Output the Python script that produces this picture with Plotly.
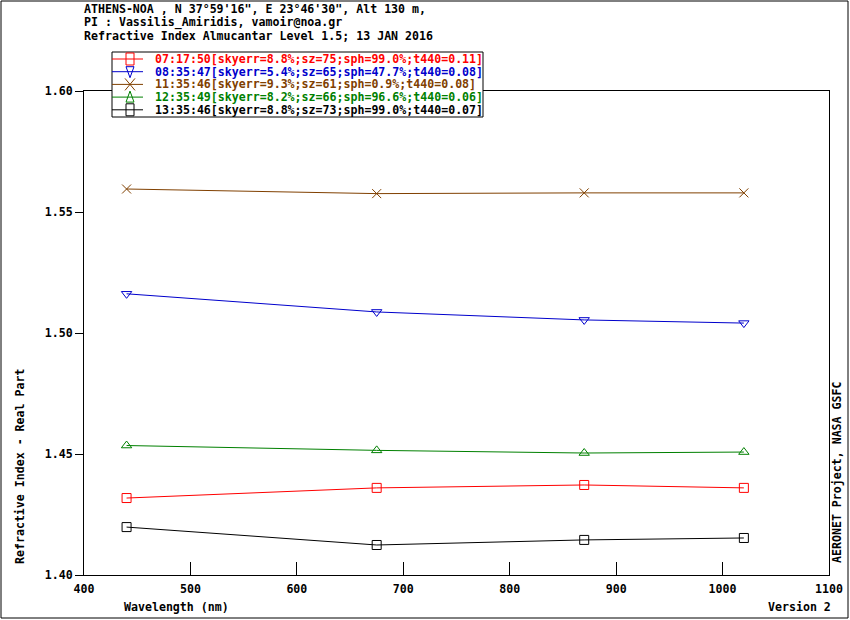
import plotly.graph_objects as go

# wavelengths (nm) and real part of refractive index per almucantar scan
wavelengths = [440, 675, 870, 1020]

ri_0717 = [1.4318, 1.4360, 1.4372, 1.4360]
ri_0835 = [1.5162, 1.5087, 1.5054, 1.5041]
ri_1135 = [1.5595, 1.5576, 1.5579, 1.5579]
ri_1235 = [1.4535, 1.4515, 1.4504, 1.4508]
ri_1335 = [1.4198, 1.4124, 1.4145, 1.4153]

labels = [
    "07:17:50[skyerr=8.8%;sz=75;sph=99.0%;t440=0.11]",
    "08:35:47[skyerr=5.4%;sz=65;sph=47.7%;t440=0.08]",
    "11:35:46[skyerr=9.3%;sz=61;sph=0.9%;t440=0.08]",
    "12:35:49[skyerr=8.2%;sz=66;sph=96.6%;t440=0.06]",
    "13:35:46[skyerr=8.8%;sz=73;sph=99.0%;t440=0.07]",
]
series = [ri_0717, ri_0835, ri_1135, ri_1235, ri_1335]
colors = ["#ff0000", "#0000cc", "#804000", "#008000", "#000000"]
symbols = ["square-open", "triangle-down-open", "x-thin-open", "triangle-up-open", "square-open"]

x_ticks = [400, 500, 600, 700, 800, 900, 1000, 1100]
y_ticks = [1.40, 1.45, 1.50, 1.55, 1.60]

title_lines = [
    "ATHENS-NOA , N 37°59'16\", E 23°46'30\", Alt 130 m,",
    "PI : Vassilis_Amiridis, vamoir@noa.gr",
    "Refractive Index Almucantar Level 1.5; 13 JAN 2016",
]

# page geometry (pixels)
W, H = 850, 620
L, R, T, B = 84, 829, 91, 575


def px(x):
    return (x - L) / (R - L)


def py(y):
    return (B - y) / (B - T)


mono = dict(family="DejaVu Sans Mono", size=11.6, color="black", weight="bold")

fig = go.Figure()
for lab, vals, col, sym in zip(labels, series, colors, symbols):
    fig.add_trace(go.Scatter(
        x=wavelengths, y=vals, mode="lines+markers", name=lab,
        line=dict(color=col, width=1),
        marker=dict(symbol=sym, size=9, color=col, line=dict(color=col, width=1)),
    ))

shapes = []
annotations = []

# outer border of the page
shapes.append(dict(type="rect", xref="paper", yref="paper",
                   x0=px(1), x1=px(848), y0=py(1), y1=py(618),
                   line=dict(color="black", width=1), layer="above"))

# hand-made legend box
shapes.append(dict(type="rect", xref="paper", yref="paper",
                   x0=px(112), x1=px(483), y0=py(117), y1=py(52),
                   fillcolor="white", line=dict(color="black", width=1), layer="above"))

for i, (lab, col, sym) in enumerate(zip(labels, colors, symbols)):
    yr = 59 + i * 12.7
    shapes.append(dict(type="line", xref="paper", yref="paper",
                       x0=px(112), x1=px(143), y0=py(yr), y1=py(yr),
                       line=dict(color=col, width=1), layer="above"))
    mk = dict(xref="paper", yref="paper", xsizemode="pixel", ysizemode="pixel",
              xanchor=px(130), yanchor=py(yr), line=dict(color=col, width=1), layer="above")
    if sym == "square-open":
        shapes.append(dict(type="rect", x0=-4, x1=4, y0=-6, y1=6, **mk))
    elif sym == "triangle-down-open":
        shapes.append(dict(type="path", path="M -4 5 L 4 5 L 0 -6 Z", **mk))
    elif sym == "triangle-up-open":
        shapes.append(dict(type="path", path="M -4 -5 L 4 -5 L 0 6 Z", **mk))
    else:
        shapes.append(dict(type="path", path="M -5 -6 L 5 6 M -5 6 L 5 -6", **mk))
    annotations.append(dict(xref="paper", yref="paper", x=px(153), y=py(yr),
                            xanchor="left", yanchor="middle", showarrow=False,
                            text=lab, font=dict(mono, color=col)))

# header lines
for i, line in enumerate(title_lines):
    annotations.append(dict(xref="paper", yref="paper", x=px(82), y=py(9 + i * 13.5),
                            xanchor="left", yanchor="middle", showarrow=False,
                            text=line, font=mono))

annotations += [
    dict(xref="paper", yref="paper", x=px(122), y=py(607), xanchor="left", yanchor="middle",
         showarrow=False, text="Wavelength (nm)", font=mono),
    dict(xref="paper", yref="paper", x=px(833), y=py(607), xanchor="right", yanchor="middle",
         showarrow=False, text="Version 2", font=mono),
    dict(xref="paper", yref="paper", x=px(20), y=py(467), xanchor="center", yanchor="middle",
         showarrow=False, text="Refractive Index - Real Part", textangle=-90, font=mono),
    dict(xref="paper", yref="paper", x=px(837), y=py(472), xanchor="center", yanchor="middle",
         showarrow=False, text="AERONET Project, NASA GSFC", textangle=-90, font=mono),
]

fig.update_layout(
    width=W, height=H, autosize=False,
    margin=dict(l=L, r=W - R, t=T, b=H - B, pad=0, autoexpand=False),
    paper_bgcolor="white", plot_bgcolor="white",
    showlegend=False, font=mono,
    shapes=shapes, annotations=annotations,
)
fig.update_xaxes(range=[400, 1100], tickvals=x_ticks, ticks="inside", ticklen=13,
                 tickcolor="black", showgrid=False, zeroline=False, automargin=False,
                 showline=True, linecolor="black", linewidth=1, mirror=True,
                 tickfont=mono, ticklabelstandoff=3)
fig.update_yaxes(range=[1.40, 1.60], tickvals=y_ticks, tickformat=".2f", ticks="outside",
                 ticklen=8, tickcolor="black", showgrid=False, zeroline=False, automargin=False,
                 showline=True, linecolor="black", linewidth=1, mirror=True,
                 tickfont=mono)

# drop the browser's default body margin so the figure sits at the page corner
fig.write_html("out.html", config={"displayModeBar": False},
               post_script="document.body.style.margin='0';")
